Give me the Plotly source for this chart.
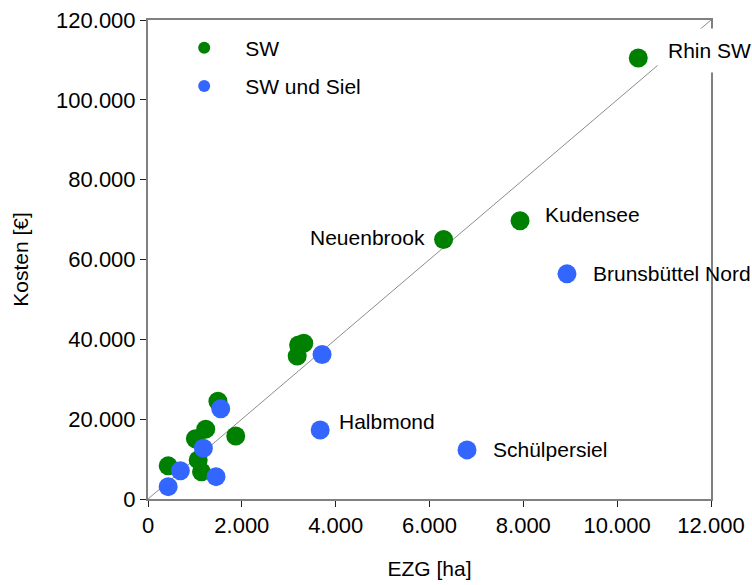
import plotly.graph_objects as go

# Data (EZG in ha, Kosten in EUR)
sw_x = [10450, 7930, 6300, 3210, 3320, 3180, 1490, 1230, 1010, 1870, 1070, 1140, 430]
sw_y = [110500, 69700, 65000, 38600, 39000, 35800, 24500, 17500, 15100, 15800, 9800, 6800, 8300]

siel_x = [8930, 6800, 3710, 3670, 1550, 1180, 690, 430, 1450]
siel_y = [56400, 12300, 36200, 17300, 22600, 12700, 7100, 3100, 5600]

trend_x = [0, 12000]
trend_y = [0, 120000]

# Point labels: (name, x, y, side)
labels = [
    ("Rhin SW", 10450, 110500, "right"),
    ("Kudensee", 7930, 69700, "right"),
    ("Neuenbrook", 6300, 65000, "left"),
    ("Brunsbüttel Nord", 8930, 56400, "right"),
    ("Halbmond", 3670, 17300, "right"),
    ("Schülpersiel", 6800, 12300, "right"),
]
label_offsets = {
    "Rhin SW": (19, 7, True),
    "Kudensee": (23, 6, False),
    "Neuenbrook": (-17, 2, False),
    "Brunsbüttel Nord": (24, 0, False),
    "Halbmond": (17, 8, False),
    "Schülpersiel": (24, 0, False),
}

FONT = "Liberation Sans, Arial, sans-serif"

fig = go.Figure()
fig.add_trace(go.Scatter(x=trend_x, y=trend_y, mode="lines",
                         line=dict(color="#8c8c8c", width=1),
                         showlegend=False, hoverinfo="skip"))
fig.add_trace(go.Scatter(x=sw_x, y=sw_y, mode="markers", name="SW",
                         legendgroup="a",
                         marker=dict(color="#008000", size=19)))
fig.add_trace(go.Scatter(x=siel_x, y=siel_y, mode="markers", name="SW und Siel",
                         legendgroup="b",
                         marker=dict(color="#3366ff", size=19)))

for name, lx, ly, side in labels:
    dx, dy, bg = label_offsets[name]
    fig.add_annotation(x=lx, y=ly, text=name, showarrow=False,
                       xanchor="left" if side == "right" else "right",
                       yanchor="middle",
                       xshift=dx,
                       yshift=dy,
                       font=dict(family=FONT, size=21, color="black"),
                       bgcolor="white" if bg else None,
                       borderpad=10 if bg else 1)

axis_common = dict(
    showline=True, mirror=True, linecolor="#808080", linewidth=2,
    ticks="outside", ticklen=6, tickcolor="#202020", tickwidth=1,
    showgrid=False, zeroline=False, automargin=False,
    tickfont=dict(family=FONT, size=22, color="black"),
    tickformat=",d",
)

fig.update_xaxes(range=[0, 12000], tickvals=[0, 2000, 4000, 6000, 8000, 10000, 12000],
                 title=dict(text="EZG [ha]", font=dict(family=FONT, size=21, color="black"),
                            standoff=24),
                 **axis_common)
fig.update_yaxes(range=[0, 120000], tickvals=[0, 20000, 40000, 60000, 80000, 100000, 120000],
                 title=dict(text="Kosten [€]", font=dict(family=FONT, size=21, color="black"),
                            standoff=22),
                 **axis_common)

fig.update_layout(
    width=752, height=585,
    margin=dict(l=148, r=41, t=20, b=86),
    paper_bgcolor="white", plot_bgcolor="white",
    separators=",.",
    font=dict(family=FONT, size=21, color="black"),
    legend=dict(x=0.027, y=0.984, xanchor="left", yanchor="top",
                bgcolor="rgba(0,0,0,0)", itemsizing="constant",
                itemwidth=72,
                traceorder="grouped", tracegroupgap=8,
                font=dict(family=FONT, size=21, color="black")),
)

fig.write_html("out.html")
